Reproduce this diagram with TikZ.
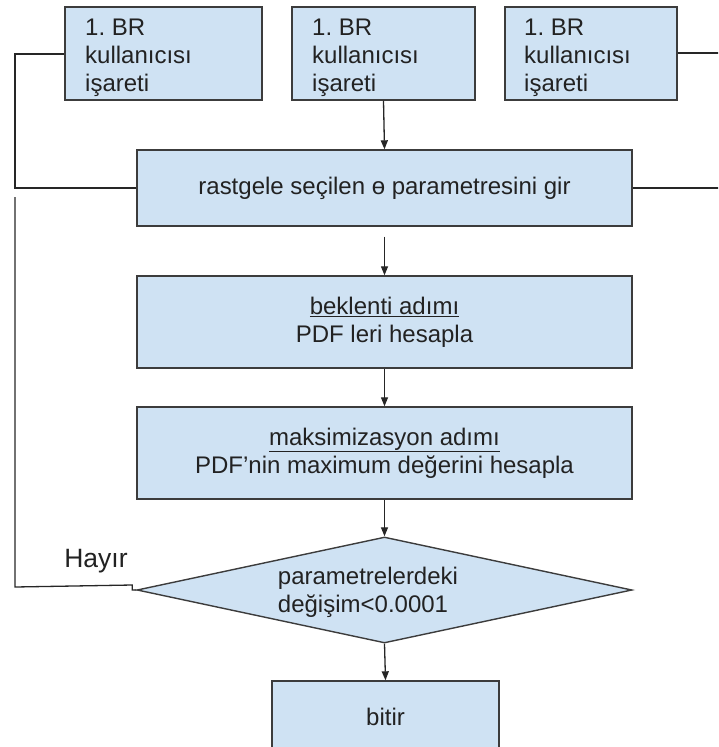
\documentclass[tikz,border=0pt]{standalone}
\usepackage{fontspec}
\setmainfont{Liberation Sans}
\usetikzlibrary{arrows.meta,shapes.geometric}
\definecolor{boxfill}{HTML}{CFE2F3}
\definecolor{boxline}{HTML}{3C3C3C}
\definecolor{txt}{HTML}{222222}
\frenchspacing
\begin{document}
\begin{tikzpicture}[x=1pt,y=-1pt,
  every node/.style={font=\fontsize{24}{28}\selectfont, text=txt},
  box/.style={draw=boxline, fill=boxfill, line width=1.4pt, rectangle, inner sep=0pt},
  topbox/.style={box, minimum height=93pt},
  toptext/.style={align=left, anchor=north west, inner sep=0pt},
  wide/.style={box, minimum width=495pt, align=center},
  conn/.style={draw=black!85, line width=1.3pt},
  arr/.style={conn, -{Triangle[length=9pt,width=7pt]}}]
\useasboundingbox (0,0) rectangle (718,747);
\clip (0,0) rectangle (718,747);

\node[topbox, minimum width=197pt] (b1) at (163.5,53.5) {};
\node[topbox, minimum width=183pt] (b2) at (383.5,53.5) {};
\node[topbox, minimum width=172pt] (b3) at (591,53.5) {};
\node[toptext] (t1) at (85,19) {1. BR\\kullanıcısı\\işareti};
\node[toptext] (t2) at (312,19) {1. BR\\kullanıcısı\\işareti};
\node[toptext] (t3) at (524,19) {1. BR\\kullanıcısı\\işareti};

\node[wide, minimum height=76pt] (main) at (384.5,188) {rastgele seçilen ө parametresini gir};
\node[wide, minimum height=92pt] (bek) at (384.5,322) {\underline{beklenti adımı}\\PDF leri hesapla};
\node[wide, minimum height=92pt] (maks) at (384.5,453) {\underline{maksimizasyon adımı}\\PDF’nin maximum değerini hesapla};
\node[draw=boxline, fill=boxfill, line width=1.4pt, diamond, aspect=4.67, minimum width=495pt, minimum height=106pt, inner sep=0pt] (d) at (384.5,590) {};
\node[align=left] (dt) at (368,592) {parametrelerdeki\\değişim<0.0001};
\node[box, minimum width=227pt, minimum height=72pt] (bitir) at (385.5,717) {bitir};
\node[font=\fontsize{26.5}{30}\selectfont] (hayir) at (96,561) {Hayır};

\coordinate (l1) at (15,54);
\coordinate (l2) at (15,188);
\coordinate (l3) at (15,587);
\coordinate (l4) at (15,197);
\coordinate (r1) at (720,53);
\coordinate (r2) at (720,188);

\draw[conn] (b1.west |- l1) -- (l1) -- (l2) -- (main.west);
\draw[conn] (b3.east |- r1) -- (r1);
\draw[conn] (main.east) -- (r2);
\draw[conn] (d.west) -- ++(-4,0) -- ++(0,-5) -- (l3) -- (l4);

\draw[arr] (b2.south) -- (main.north);
\draw[arr] ([yshift=-10pt]main.south) -- (bek.north);
\draw[arr] (bek.south) -- (maks.north);
\draw[arr] (maks.south) -- (d.north);
\draw[arr] (d.south) -- (bitir.north);
\end{tikzpicture}
\end{document}
